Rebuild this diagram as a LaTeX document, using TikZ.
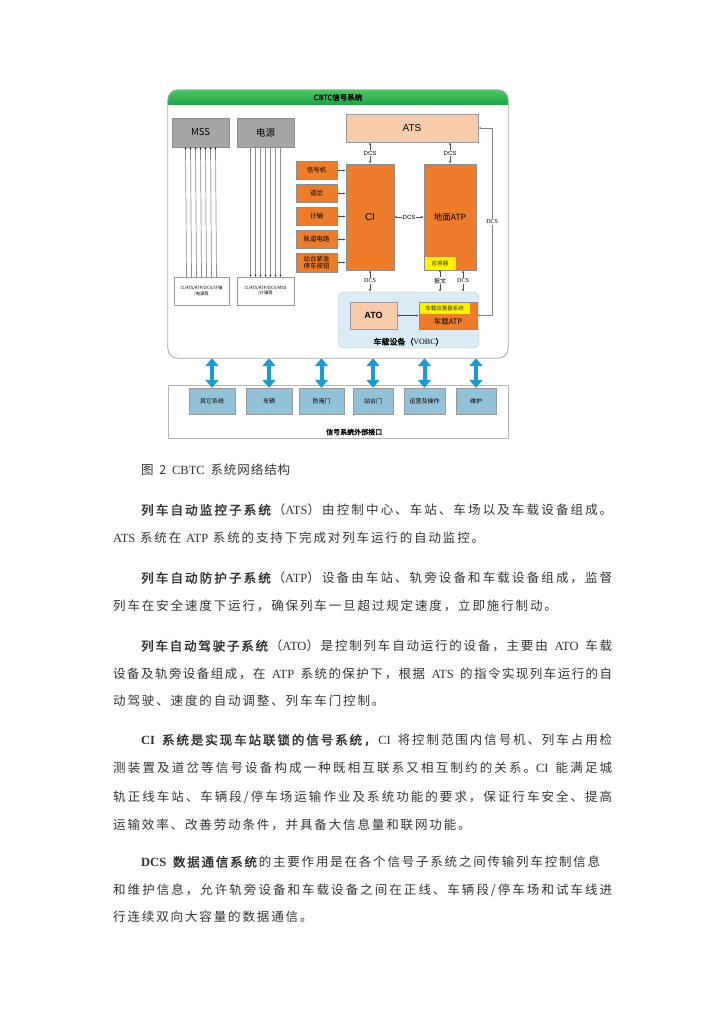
\documentclass[tikz,border=0pt]{standalone}
\usepackage{fontspec}
\setmainfont{Liberation Serif}
\setsansfont{Liberation Sans}
\newfontfamily\zhfont{Noto Sans CJK SC}[AutoFakeBold=2]
\newfontfamily\zhbody{Noto Sans CJK SC}[LetterSpace=15, AutoFakeBold=2]
\XeTeXlinebreaklocale "zh"
\XeTeXlinebreakskip=0pt plus 2pt minus 1pt
\hbadness=10000
\usetikzlibrary{arrows.meta,positioning}

\definecolor{cbtcorange}{HTML}{EE7D2B}
\definecolor{atspeach}{HTML}{F8CBAD}
\definecolor{mssgray}{HTML}{A5A5A5}
\definecolor{vobcblue}{HTML}{DAEBF5}
\definecolor{extblue}{HTML}{93C2D8}
\definecolor{arrowblue}{HTML}{1C9AD6}
\definecolor{hdrlight}{HTML}{4CC864}
\definecolor{hdrgreen}{HTML}{1DA246}

\newcommand\szpt[1]{\fontsize{#1}{\fpeval{1.2*#1}}\selectfont}
\newcommand\en[1]{{\rmfamily #1}}
\newcommand\jl[1]{\parindent=0pt\parfillskip=0pt\relax #1\par}

\begin{document}
\begin{tikzpicture}[
  x=1pt, y=-1pt,
  font=\zhfont,
  every node/.style={inner sep=0pt},
  sysbox/.style={draw=black!45, fill=mssgray, minimum width=57pt, minimum height=29pt, font=\zhfont\szpt{9.5}},
  devbox/.style={draw=black!40, fill=white, minimum height=28pt, align=center, font=\zhfont\szpt{4.3}},
  peachbox/.style={draw=black!40, fill=atspeach, font=\sffamily\szpt{10}},
  orbox/.style={draw=black!45, fill=cbtcorange, align=center, font=\zhfont\szpt{6.5}},
  tagbox/.style={fill=yellow, text=black!80, font=\zhfont\szpt{5.5}},
  extbox/.style={draw=black!40, fill=extblue, minimum height=26pt, font=\zhfont\szpt{6}},
  link/.style={{Latex[length=2.5pt,width=2.2pt]}-{Latex[length=2.5pt,width=2.2pt]}, line width=0.5pt, draw=black!70},
  feed/.style={line width=0.7pt, draw=black!45},
  dcs/.style={fill=white, inner sep=0.8pt, font=\sffamily\szpt{6}},
  dcsser/.style={fill=white, inner sep=0.8pt, font=\rmfamily\szpt{6}},
  bigarrow/.style={line width=4pt, draw=arrowblue, {Triangle[width=13pt,length=8pt]}-{Triangle[width=13pt,length=8pt]}},
  body/.style={anchor=base west, text=black!80, font=\zhbody\szpt{12.5}},
  jbody/.style={body, text width=#1, align=justify}
]
\fill[white] (0,0) rectangle (724,1024);
\useasboundingbox (0,0) rectangle (724,1024);

\node[minimum width=340pt, minimum height=268pt] (cbtc) at (338,224) {};
\begin{scope}
  \clip[rounded corners=10pt] (cbtc.north west) rectangle (cbtc.south east);
  \shade[top color=hdrlight, bottom color=hdrgreen] (cbtc.north west) rectangle ([yshift=-15pt]cbtc.north east);
\end{scope}
\draw[black!35, line width=0.8pt, rounded corners=10pt] (cbtc.north west) rectangle (cbtc.south east);
\node[font=\zhfont\bfseries\szpt{7.5}] (title) at ([yshift=-7.5pt]cbtc.north) {CBTC信号系统};

\node[sysbox] (mss) at (200.5,132.5) {MSS};
\node[sysbox] (power) at (265.5,132.5) {电源};
\node[devbox, minimum width=55pt] (mssdev) at (201.5,291) {CI/ATS/ATP/DCS/计轴\\/电源等};
\node[devbox, minimum width=57pt] (pwrdev) at (265.5,291) {CI/ATS/ATP/DCS/MSS\\/计轴等};
\foreach \dx in {-15,-10,...,15}
  \draw[feed, -{Latex[length=2pt,width=2pt,black]}] ([xshift=\dx pt]mssdev.north) -- ([xshift=\dx pt]mss.south);
\foreach \dx in {-15,-10,...,15}
  \draw[feed, -{Latex[length=2pt,width=2pt,black]}] ([xshift=\dx pt]power.south) -- ([xshift=\dx pt]pwrdev.north);

\node[peachbox, minimum width=132pt, minimum height=28pt] (ats) at (412,128) {ATS};
\node[orbox, minimum width=48pt, minimum height=106pt, font=\sffamily\szpt{10}] (ci) at (370,217) {CI};
\node[orbox, minimum width=52pt, minimum height=106pt, font=\zhfont\szpt{8.5}] (gatp) at (450,217) {地面ATP};
\node[tagbox, minimum width=31pt, minimum height=13pt, anchor=south west] (balise) at ([xshift=0.5pt,yshift=0.5pt]gatp.south west) {应答器};

\node[orbox, minimum width=41pt, minimum height=18pt] (sig) at (316.5,170.5) {信号机};
\node[orbox, minimum width=41pt, minimum height=18pt] (switch) at (316.5,193.5) {道岔};
\node[orbox, minimum width=41pt, minimum height=18pt] (axle) at (316.5,216.5) {计轴};
\node[orbox, minimum width=41pt, minimum height=18pt] (track) at (316.5,239.5) {轨道电路};
\node[orbox, minimum width=41pt, minimum height=19pt] (esp) at (316.5,262.5) {站台紧急\\停车按钮};
\foreach \b in {sig,switch,axle,track,esp}
  \draw[link] (\b.east) -- (\b.east -| ci.west);

\draw[link] (ats.south -| ci.north) -- node[dcs] (dcs1) {DCS} (ci.north);
\draw[link] (ats.south -| gatp.north) -- node[dcs] (dcs2) {DCS} (gatp.north);
\draw[link] (ci.east) -- node[dcs] (dcs3) {DCS} (gatp.west);

\node[draw=black!25, fill=vobcblue, rounded corners=6pt, minimum width=141pt, minimum height=56pt] (vobc) at (408.5,320) {};
\node[peachbox, minimum width=47pt, minimum height=27pt, font=\sffamily\bfseries\szpt{9}] (ato) at (373.5,315.5) {ATO};
\node[orbox, minimum width=58pt, minimum height=27pt] (vatp) at (448,315.5) {};
\node[tagbox, minimum width=50pt, minimum height=11pt, anchor=north west] (vbal) at ([xshift=0.5pt,yshift=-0.5pt]vatp.north west) {车载应答器系统};
\node[font=\zhfont\szpt{7.5}] (vatptxt) at ([yshift=-6pt]vatp.center) {车载ATP};
\node[font=\zhfont\bfseries\szpt{8}, anchor=south] (vobclbl) at ([yshift=2.5pt]vobc.south) {车载设备（\en{\mdseries VOBC}）};

\draw[link] (ci.south) -- node[dcsser] (dcs4) {DCS} (ci.south |- vobc.north);
\draw[link] (balise.south) -- node[dcsser, font=\zhfont\szpt{6}] (msg) {报文} (balise.south |- vobc.north);
\draw[link] ([xshift=13pt]gatp.south) -- node[dcsser] (dcs5) {DCS} ([xshift=13pt]gatp.south |- vobc.north);
\draw[link] (ato.east) -- (vatp.west);
\draw[link, draw=black!50] (ats.east) -- ++(14,0) |- node[dcsser, pos=0.25] (dcs6) {DCS} (vatp.east);

\node[draw=black!30, line width=1pt, fill=white, minimum width=340pt, minimum height=53pt] (ext) at (338,411.5) {};
\node[extbox, minimum width=46pt] (e1) at (212,401) {其它系统};
\node[extbox, minimum width=46pt] (e2) at (269,401) {车辆};
\node[extbox, minimum width=45pt] (e3) at (321.5,401) {防淹门};
\node[extbox, minimum width=40pt] (e4) at (373,401) {站台门};
\node[extbox, minimum width=41pt] (e5) at (424.5,401) {运营及操作};
\node[extbox, minimum width=40pt] (e6) at (476,401) {维护};
\node[font=\zhfont\bfseries\szpt{7}, anchor=west] (extlbl) at (326,432) {信号系统外部接口};
\foreach \n in {1,...,6}
  \draw[bigarrow] (cbtc.south -| e\n.north) -- (e\n.north);

\node[jbody=149pt] (cap) at (141,474.6) {\jl{图 2 \en{CBTC} 系统网络结构}};

\node[jbody=471pt] (p1a) at (141,514.6) {\jl{\textbf{列车自动监控子系统}（\en{ATS}）由控制中心、车站、车场以及车载设备组成。}};
\node[body] (p1b) at (113,542.6) {\en{ATS} 系统在 \en{ATP} 系统的支持下完成对列车运行的自动监控。};

\node[jbody=471pt] (p2a) at (141,582.6) {\jl{\textbf{列车自动防护子系统}（\en{ATP}）设备由车站、轨旁设备和车载设备组成，监督}};
\node[body] (p2b) at (113,610.6) {列车在安全速度下运行，确保列车一旦超过规定速度，立即施行制动。};

\node[jbody=471pt] (p3a) at (141,650.6) {\jl{\textbf{列车自动驾驶子系统}（\en{ATO}）是控制列车自动运行的设备，主要由 \en{ATO} 车载}};
\node[jbody=499pt] (p3b) at (113,678.6) {\jl{设备及轨旁设备组成，在 \en{ATP} 系统的保护下，根据 \en{ATS} 的指令实现列车运行的自}};
\node[body] (p3c) at (113,705.6) {动驾驶、速度的自动调整、列车车门控制。};

\node[jbody=471pt] (p4a) at (141,744.6) {\jl{\textbf{\en{CI} 系统是实现车站联锁的信号系统，}\en{CI} 将控制范围内信号机、列车占用检}};
\node[jbody=499pt] (p4b) at (113,772.6) {\jl{测装置及道岔等信号设备构成一种既相互联系又相互制约的关系。\en{CI} 能满足城}};
\node[jbody=499pt] (p4c) at (113,801.6) {\jl{轨正线车站、车辆段/停车场运输作业及系统功能的要求，保证行车安全、提高}};
\node[body] (p4d) at (113,829.6) {运输效率、改善劳动条件，并具备大信息量和联网功能。};

\node[jbody=459pt] (p5a) at (141,866.6) {\jl{\textbf{\en{DCS} 数据通信系统}的主要作用是在各个信号子系统之间传输列车控制信息}};
\node[jbody=499pt] (p5b) at (113,894.6) {\jl{和维护信息，允许轨旁设备和车载设备之间在正线、车辆段/停车场和试车线进}};
\node[body] (p5c) at (113,921.6) {行连续双向大容量的数据通信。};
\end{tikzpicture}
\end{document}
